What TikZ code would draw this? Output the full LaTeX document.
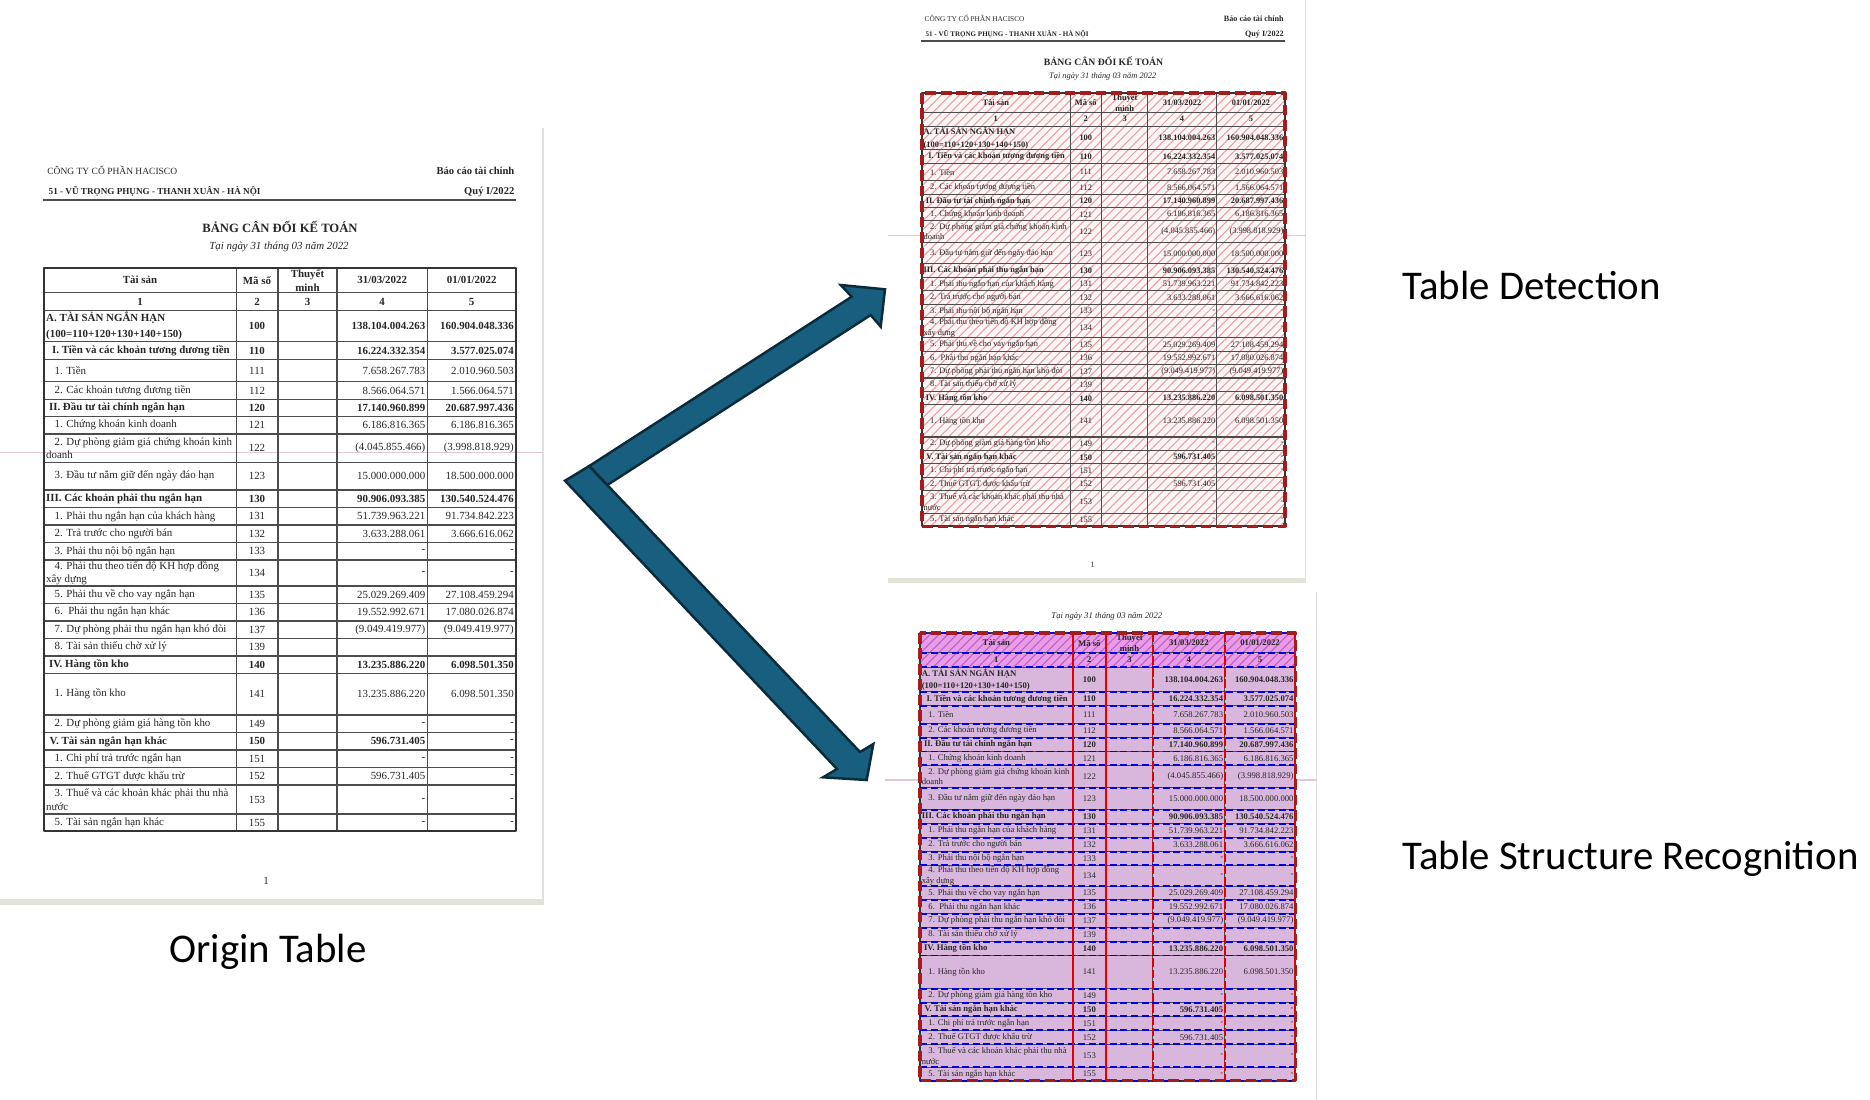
\documentclass[tikz,border=0pt]{standalone}
\usepackage{fontspec}
\setmainfont{Liberation Serif}
\newfontfamily\labelfont{Carlito}
\usepackage{tikz}
\usetikzlibrary{patterns.meta}
\definecolor{arrowblue}{HTML}{175E7F}
\definecolor{arrowedge}{HTML}{0B2A3A}
\definecolor{tsrfill}{HTML}{D9B7DD}
\definecolor{tsrhead}{HTML}{E69CE6}
\definecolor{tsrhatch}{HTML}{C45AC4}
\definecolor{detred}{HTML}{A51C1C}
\definecolor{dethatch}{HTML}{E2A2A2}
\definecolor{foldline}{HTML}{E0C8DA}
\definecolor{pageedge}{HTML}{E2E2D8}
\tikzset{
  cell/.style={inner sep=0pt, align=left, text=black!85, font=\fontsize{3.1pt}{3.8pt}\selectfont},
  cellb/.style={cell, font=\fontsize{3.1pt}{3.8pt}\selectfont\bfseries},
  rule/.style={draw=black!70, line width=0.3pt},
  frame/.style={draw=black!80, line width=0.55pt},
  detbox/.style={draw=detred, line width=0.9pt, dash pattern=on 3pt off 1.4pt},
  rowline/.style={draw=blue!90!black, line width=0.55pt, dash pattern=on 2pt off 1pt},
  colline/.style={draw=red!90!black, line width=0.6pt},
  caption/.style={font=\labelfont\fontsize{11.6pt}{14pt}\selectfont, inner sep=0pt},
  bigarrow/.style={fill=arrowblue, draw=arrowedge, line width=0.7pt, line join=miter},
}
% page around the table: #1 = 1 with the page header, #2 = top of the page edge
\newcommand{\sheetpage}[2]{%
  \draw[black!12, line width=0.4pt] (499,#2) -- (499,637);
  \fill[pageedge] (-44,631) rectangle (499,637);
  \draw[foldline, line width=0.4pt] (-44,185) -- (499,185);
  \ifnum#1=1
    \node[cell, anchor=west, font=\fontsize{2.7pt}{3pt}\selectfont] (company) at (2.7,-97) {CÔNG TY CỔ PHẦN HACISCO};
    \node[cellb, anchor=east, font=\fontsize{3pt}{3.4pt}\selectfont\bfseries] (report) at (471,-97) {Báo cáo tài chính};
    \node[cellb, anchor=west, font=\fontsize{2.6pt}{3pt}\selectfont\bfseries] (address) at (4,-76) {51 - VŨ TRỌNG PHỤNG - THANH XUÂN - HÀ NỘI};
    \node[cellb, anchor=east, font=\fontsize{3pt}{3.4pt}\selectfont\bfseries] (quarter) at (471,-76) {Quý I/2022};
    \draw[black!70, line width=0.6pt] (-1,-67.7) -- (472,-67.7);
    \node[cellb, font=\fontsize{3.6pt}{4pt}\selectfont\bfseries] (title) at (236,-41) {BẢNG CÂN ĐỐI KẾ TOÁN};
    \node[cell] (pageno) at (222,613) {1};
  \fi
  \node[cell, font=\fontsize{3.1pt}{3.5pt}\selectfont\itshape] (date) at (235,-21) {Tại ngày 31 tháng 03 năm 2022};
}
% the balance sheet itself, 472 x 563.3 from its top left corner
\newcommand{\sheettable}{%
  \foreach \y in {25,43,74,91.6,114,131.6,149,166.3,194.6,222.3,240,257.3,275,292.3,318.3,335.6,353.3,370.6,388.3,405.6,447.3,465,482.3,499.6,517.3,546.3}
    \draw[rule] (0,\y) -- (472,\y);
  \foreach \x in {192.5,234,293,383.5}
    \draw[rule] (\x,0) -- (\x,563.3);
  \draw[frame] (0,0) rectangle (472,563.3);
  \node[cellb] (hdasset) at (96,12.5) {Tài sản};
  \node[cellb] (hdcode) at (213,12.5) {Mã số};
  \node[cellb, align=center, font=\fontsize{3.1pt}{4pt}\selectfont\bfseries] (hdnote) at (263.5,12.5) {Thuyết\\minh};
  \node[cellb] (hdnow) at (338.2,12.5) {31/03/2022};
  \node[cellb] (hdprev) at (427.7,12.5) {01/01/2022};
  \foreach \x/\n in {96/1,213/2,263.5/3,338.2/4,427.7/5}
    \node[cellb] (idx\n) at (\x,34) {\n};
  \foreach \ytop/\ybot/\sty/\lab/\rcode/\va/\vb in {
    43/74/cellb/{A. TÀI SẢN NGẮN HẠN\\[0.8pt](100=110+120+130+140+150)}/100/138.104.004.263/160.904.048.336,
    74/91.6/cellb/{\hspace*{1.7pt}I. Tiền và các khoản tương đương tiền}/110/16.224.332.354/3.577.025.074,
    91.6/114/cell/{\hspace*{2.4pt}1. Tiền}/111/7.658.267.783/2.010.960.503,
    114/131.6/cell/{\hspace*{2.4pt}2. Các khoản tương đương tiền}/112/8.566.064.571/1.566.064.571,
    131.6/149/cellb/{\hspace*{0.8pt}II. Đầu tư tài chính ngắn hạn}/120/17.140.960.899/20.687.997.436,
    149/166.3/cell/{\hspace*{2.4pt}1. Chứng khoán kinh doanh}/121/6.186.816.365/6.186.816.365,
    166.3/194.6/cell/{\hspace*{2.4pt}2. Dự phòng giảm giá chứng khoán kinh\\doanh}/122/(4.045.855.466)/(3.998.818.929),
    194.6/222.3/cell/{\hspace*{2.4pt}3. Đầu tư nắm giữ đến ngày đáo hạn}/123/15.000.000.000/18.500.000.000,
    222.3/240/cellb/{III. Các khoản phải thu ngắn hạn}/130/90.906.093.385/130.540.524.476,
    240/257.3/cell/{\hspace*{2.4pt}1. Phải thu ngắn hạn của khách hàng}/131/51.739.963.221/91.734.842.223,
    257.3/275/cell/{\hspace*{2.4pt}2. Trả trước cho người bán}/132/3.633.288.061/3.666.616.062,
    275/292.3/cell/{\hspace*{2.4pt}3. Phải thu nội bộ ngắn hạn}/133/-/-,
    292.3/318.3/cell/{\hspace*{2.4pt}4. Phải thu theo tiến độ KH hợp đồng\\xây dựng}/134/-/-,
    318.3/335.6/cell/{\hspace*{2.4pt}5. Phải thu về cho vay ngắn hạn}/135/25.029.269.409/27.108.459.294,
    335.6/353.3/cell/{\hspace*{2.4pt}6.\ \ Phải thu ngắn hạn khác}/136/19.552.992.671/17.080.026.874,
    353.3/370.6/cell/{\hspace*{2.4pt}7. Dự phòng phải thu ngắn hạn khó đòi}/137/(9.049.419.977)/(9.049.419.977),
    370.6/388.3/cell/{\hspace*{2.4pt}8. Tài sản thiếu chờ xử lý}/139/{}/{},
    388.3/405.6/cellb/{\hspace*{0.8pt}IV. Hàng tồn kho}/140/13.235.886.220/6.098.501.350,
    405.6/447.3/cell/{\hspace*{2.4pt}1. Hàng tồn kho}/141/13.235.886.220/6.098.501.350,
    447.3/465/cell/{\hspace*{2.4pt}2. Dự phòng giảm giá hàng tồn kho}/149/-/-,
    465/482.3/cellb/{\hspace*{1pt}V. Tài sản ngắn hạn khác}/150/596.731.405/-,
    482.3/499.6/cell/{\hspace*{2.4pt}1. Chi phí trả trước ngắn hạn}/151/-/-,
    499.6/517.3/cell/{\hspace*{2.4pt}2. Thuế GTGT được khấu trừ}/152/596.731.405/-,
    517.3/546.3/cell/{\hspace*{2.4pt}3. Thuế và các khoản khác phải thu nhà\\nước}/153/-/-,
    546.3/563.3/cell/{\hspace*{2.4pt}5. Tài sản ngắn hạn khác}/155/-/-}
  {
    \node[\sty, anchor=west] (lab\rcode) at (1.5,{(\ytop+\ybot)/2}) {\lab};
    \node[\sty] (code\rcode) at (213,{(\ytop+\ybot)/2}) {\rcode};
    \node[\sty, anchor=east] (va\rcode) at (382,{(\ytop+\ybot)/2}) {\va};
    \node[\sty, anchor=east] (vb\rcode) at (470.5,{(\ytop+\ybot)/2}) {\vb};
  }
}

\begin{document}
\begin{tikzpicture}[x=0.01cm,y=-0.01cm,line join=round]
\useasboundingbox (0,0) rectangle (1870,1099);

% origin table
\begin{scope}[shift={(44,267.7)}]
  \sheetpage{1}{-140}
  \sheettable
\end{scope}

% table detection
\begin{scope}[shift={(922,93)},scale=0.769,transform shape]
  \sheetpage{1}{-121}
  \fill[red!4] (0,0) rectangle (472,563.3);
  \fill[pattern={Lines[angle=45,distance=1.8pt,line width=0.3pt]},pattern color=dethatch] (0,0) rectangle (472,563.3);
  \sheettable
  \draw[detbox] (0,0) rectangle (472,563.3);
\end{scope}

% table structure recognition
\begin{scope}[shift={(920,633)},scale=0.795,transform shape]
  \sheetpage{0}{-52}
  \fill[tsrfill] (0,0) rectangle (472,563.3);
  \fill[tsrhead] (0,0) rectangle (472,43);
  \fill[pattern={Lines[angle=45,distance=1.8pt,line width=0.3pt]},pattern color=tsrhatch] (0,0) rectangle (472,43);
  \sheettable
  \foreach \y in {0,25,43,74,91.6,114,131.6,149,166.3,194.6,222.3,240,257.3,275,292.3,318.3,335.6,353.3,370.6,388.3,405.6,447.3,465,482.3,499.6,517.3,546.3,563.3}
    \draw[rowline] (0,\y) -- (472,\y);
  \foreach \x in {192.5,234,472}
    \draw[colline] (\x,0) -- (\x,563.3);
  \foreach \x in {293,383.5}
    \draw[colline, dash pattern=on 2.5pt off 0.8pt] (\x,0) -- (\x,563.3);
  \draw[detbox] (0,0) rectangle (472,563.3);
\end{scope}

% fork arrows
\draw[bigarrow] (565,480.7) -- (837,769) -- (823,777.3) -- (866.7,780) -- (873.3,744) -- (860,752) -- (589.3,466) -- cycle;
\draw[bigarrow] (589.3,466) -- (851.7,296.7) -- (840.7,285) -- (885,289.3) -- (880.7,326.7) -- (870.7,315) -- (607.3,485) -- cycle;

% captions
\node[caption, anchor=base] (origin) at (268,962) {Origin Table};
\node[caption, anchor=base west] (detect) at (1402,299) {Table Detection};
\node[caption, anchor=base west] (struct) at (1402,869) {Table Structure Recognition};
\end{tikzpicture}
\end{document}
